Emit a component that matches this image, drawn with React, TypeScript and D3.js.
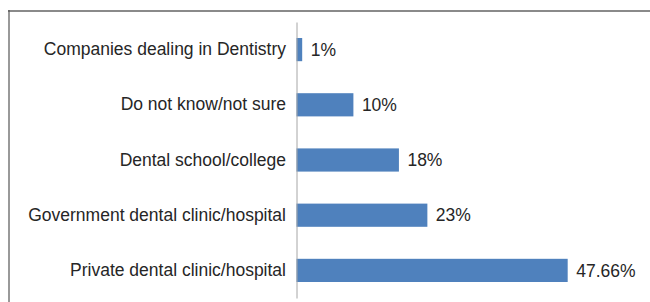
import React, { useEffect, useRef } from 'react'
import { axisLeft, scaleBand, scaleLinear, select } from 'd3'

const categories = [
  'Companies dealing in Dentistry',
  'Do not know/not sure',
  'Dental school/college',
  'Government dental clinic/hospital',
  'Private dental clinic/hospital',
]
const values = [1, 10, 18, 23, 47.66]
const valueLabels = ['1%', '10%', '18%', '23%', '47.66%']

const W = 650
const H = 302
const font = 'Arial, "Liberation Sans", sans-serif'

const App = () => {
  const axisRef = useRef<SVGGElement>(null)

  const x = scaleLinear().domain([0, 50]).range([296.5, 581])
  const y = scaleBand().domain(categories).range([22, 298]).paddingInner(0.58).paddingOuter(0.29)

  useEffect(() => {
    if (axisRef.current) {
      const g = select(axisRef.current)
      g.call(axisLeft(y).tickSize(0).tickSizeOuter(0).tickPadding(10.5))
      g.select('.domain').attr('stroke', '#a6a6a6').attr('stroke-width', 1)
      g.selectAll('text')
        .attr('font-family', font)
        .attr('font-size', 17.5)
        .attr('fill', '#262626')
    }
  }, [])

  return (
    <svg width={W} height={H} style={{ position: 'absolute', left: 0, top: 0, background: '#fff' }}>
      {/* frame, cropped on right and bottom */}
      <line x1={8} x2={W} y1={11} y2={11} stroke="#8a8a8a" strokeWidth={2} />
      <line x1={9} x2={9} y1={10} y2={H} stroke="#555" strokeWidth={1.2} />

      {categories.map((c, i) => (
        <rect
          key={c}
          x={x(0)}
          y={y(c)}
          width={x(values[i]) - x(0)}
          height={y.bandwidth()}
          fill="#4f81bd"
        />
      ))}

      <g ref={axisRef} transform={`translate(${x(0)},0)`} />

      {categories.map((c, i) => (
        <text
          key={`lbl-${c}`}
          x={x(values[i]) + 8.5}
          y={(y(c) ?? 0) + y.bandwidth() / 2}
          dy="0.35em"
          fontFamily={font}
          fontSize={17.5}
          fill="#262626"
        >
          {valueLabels[i]}
        </text>
      ))}
    </svg>
  )
}

export default App
